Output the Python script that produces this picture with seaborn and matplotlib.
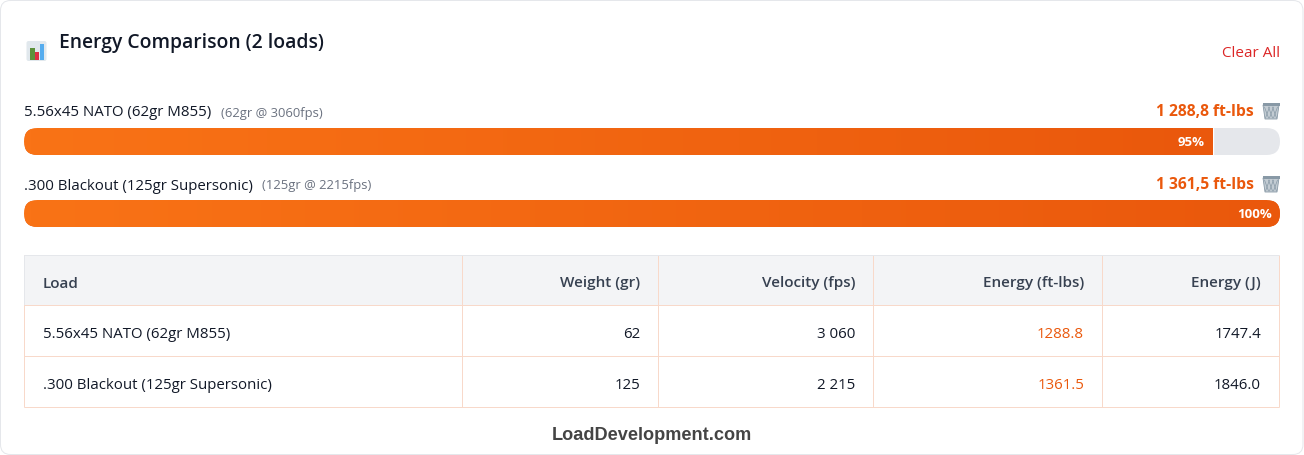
import numpy as np
import matplotlib
matplotlib.use('Agg')
import matplotlib.pyplot as plt
import seaborn as sns
from matplotlib.colors import LinearSegmentedColormap
from matplotlib.patches import FancyBboxPatch, Polygon, Rectangle

# Values
loads = ['5.56x45 NATO (62gr M855)', '.300 Blackout (125gr Supersonic)']
weights = [62, 125]
velocities = [3060, 2215]
energy_ftlbs = [1288.8, 1361.5]
energy_j = [1747.4, 1846.0]
headers = ['Load', 'Weight (gr)', 'Velocity (fps)', 'Energy (ft-lbs)', 'Energy (J)']

percent = [100 * e / max(energy_ftlbs) for e in energy_ftlbs]

ORANGE = '#ea580c'
BORDER = '#f8d9ca'
PX = 0.72  # css px to pt at dpi 100


def spaced(v, dec=0):
    return f'{v:,.{dec}f}'.replace(',', ' ')


sns.set_theme(style='white')
plt.rcParams['font.family'] = ['Open Sans', 'DejaVu Sans']

fig = plt.figure(figsize=(13.04, 4.55), dpi=100, facecolor='white')

# Background axes in pixel units for the card, table and icons
bg = fig.add_axes([0, 0, 1, 1], zorder=0)
bg.set_xlim(0, 1304)
bg.set_ylim(455, 0)
bg.axis('off')

bg.add_patch(FancyBboxPatch((0.5, 0.5), 1302.5, 454, boxstyle='round,pad=0,rounding_size=10',
                            fc='white', ec='#e5e7eb', lw=0.72))

# Title row
bg.add_patch(FancyBboxPatch((26.5, 41), 20, 20, boxstyle='round,pad=0,rounding_size=2',
                            fc='#e1e8ed', ec='none'))
bg.add_patch(Rectangle((29.5, 48), 5, 12, fc='#5c913b', ec='none'))
bg.add_patch(Rectangle((35, 52), 4, 8, fc='#dd2e44', ec='none'))
bg.add_patch(Rectangle((39.5, 44), 4.5, 16, fc='#55acee', ec='none'))

bg.text(59, 43, 'Energy Comparison (2 loads)', fontsize=19.3 * PX, weight=600, color='#111827',
        va='center', ha='left')
bg.text(1280, 53.5, 'Clear All', fontsize=15.2 * PX, color='#dc2626', va='center', ha='right')

# Bars: one axes whose x scale runs 0-100 over the track width
row_gap = 72
bar_h = 27
top = 128
bottom = top + row_gap + bar_h
left, right = 24, 1280
ax = fig.add_axes([left / 1304, 1 - bottom / 455, (right - left) / 1304, (bottom - top) / 455], zorder=1)
ax.patch.set_alpha(0)

sns.barplot(x=percent, y=loads, orient='h', color=ORANGE, width=bar_h / row_gap, ax=ax, saturation=1)

cmap = LinearSegmentedColormap.from_list('bar', ['#f97316', ORANGE])
grad = np.linspace(0, 1, 256).reshape(1, -1)

tracks = []
for i in range(len(loads)):
    y0 = top + i * row_gap
    track = FancyBboxPatch((left, y0), right - left, bar_h, boxstyle='round,pad=0,rounding_size=13.5',
                           fc='#e5e7eb', ec='none')
    bg.add_patch(track)
    tracks.append(track)

for i, bar in enumerate(ax.patches):
    bar.set_clip_path(tracks[i])
    w = bar.get_width()
    yb = bar.get_y()
    im = ax.imshow(grad, cmap=cmap, aspect='auto', interpolation='bilinear',
                   extent=(0, w, yb + bar.get_height(), yb), zorder=2)
    im.set_clip_path(tracks[i])
    ax.annotate(f'{percent[i]:.0f}%', xy=(w, i), xytext=(-8.5 * PX, -1), textcoords='offset points',
                ha='right', va='center', color='white', fontsize=13.2 * PX, weight='bold', zorder=3)

ax.set_xlim(0, 100)
ax.set_ylim(1 + 0.5 * bar_h / row_gap, -0.5 * bar_h / row_gap)
ax.axis('off')


def trash(x, y):
    # little bin icon next to each value
    bg.add_patch(Polygon([(x, y + 2), (x + 16, y + 2), (x + 14, y + 16), (x + 2, y + 16)],
                         closed=True, fc='#c3ccd3', ec='#8899a6', lw=0.6))
    bg.add_patch(Rectangle((x - 0.5, y), 17, 2.5, fc='#8899a6', ec='none'))
    for k in range(1, 4):
        bg.plot([x + 4 * k - 2.5, x + 4 * k + 1.5], [y + 4, y + 15], color='#8899a6', lw=0.5)
        bg.plot([x + 4 * k + 2.5, x + 4 * k - 1.5], [y + 4, y + 15], color='#8899a6', lw=0.5)


# Labels above each bar
for i, load in enumerate(loads):
    yc = 113 + i * 73
    t = bg.text(24, yc, load, fontsize=15 * PX, color='#111827', va='center', ha='left')
    fig.canvas.draw()
    ext = t.get_window_extent()
    bg.text(ext.x1 + 9.5, yc, f'({weights[i]}gr @ {velocities[i]}fps)', fontsize=13 * PX,
            color='#6b7280', va='center', ha='left')
    bg.text(1253.5, yc - 1, f'{spaced(energy_ftlbs[i], 1).replace(".", ",")} ft-lbs', fontsize=15.6 * PX,
            weight='bold', color=ORANGE, va='center', ha='right')
    trash(1263, yc - 10)

# Table
col_x = [24, 462, 658, 873, 1102, 1279]
row_y = [255, 305, 356, 407]
bg.add_patch(Rectangle((col_x[0], row_y[0]), col_x[-1] - col_x[0], row_y[1] - row_y[0], fc='#f3f4f6', ec='none'))
for x in col_x:
    bg.plot([x, x], [row_y[0], row_y[-1]], color=BORDER, lw=0.72, solid_capstyle='butt')
bg.plot([col_x[0], col_x[0]], [row_y[0], row_y[1]], color='#e5e7eb', lw=0.72, solid_capstyle='butt')
bg.plot([col_x[0], col_x[-1]], [row_y[0], row_y[0]], color='#e5e7eb', lw=0.72, solid_capstyle='butt')
for y in row_y[1:]:
    bg.plot([col_x[0], col_x[-1]], [y, y], color=BORDER, lw=0.72, solid_capstyle='butt')

for j, h in enumerate(headers):
    if j == 0:
        bg.text(col_x[0] + 19, 283.5, h, fontsize=15.3 * PX, weight=600, color='#374151', va='center', ha='left')
    else:
        bg.text(col_x[j + 1] - 18, 283.5, h, fontsize=15.3 * PX, weight=600, color='#374151', va='center', ha='right')

for i, load in enumerate(loads):
    yc = 334.4 + i * 51
    cells = [str(weights[i]), spaced(velocities[i]), f'{energy_ftlbs[i]:.1f}', f'{energy_j[i]:.1f}']
    bg.text(col_x[0] + 19, yc, load, fontsize=15 * PX, color='#111827', va='center', ha='left')
    for j, c in enumerate(cells):
        bg.text(col_x[j + 2] - 18, yc, c, fontsize=15 * PX, va='center', ha='right',
                color=ORANGE if j == 2 else '#111827')

bg.text(652, 436, 'LoadDevelopment.com', fontsize=18.1 * PX, weight='bold', color='#444444',
        family='Liberation Sans', va='center', ha='center')

fig.savefig('out.png', dpi=100, facecolor='white')
